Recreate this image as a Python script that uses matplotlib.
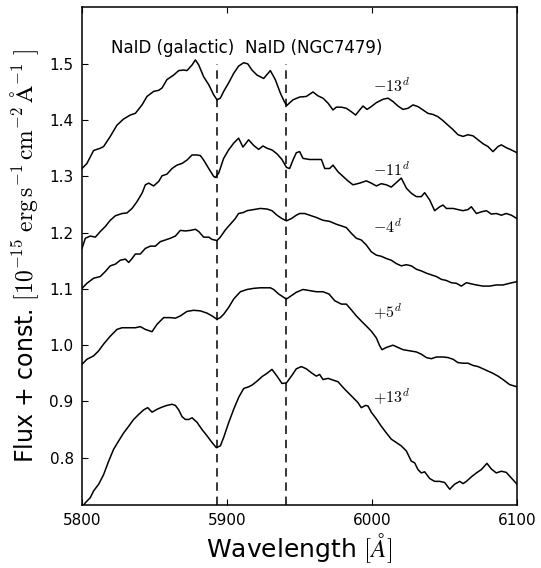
import matplotlib
matplotlib.use("Agg")
import matplotlib.pyplot as plt

plt.rcParams['mathtext.fontset'] = 'cm'
plt.rcParams['font.family'] = ['DejaVu Sans']

# ---- data (wavelength in Angstrom, flux + const.) ----
wl_m13 = [5800, 5803.4, 5808.0, 5812.6, 5814.9, 5819.5, 5824.1, 5828.7, 5833.3, 5836.8,
          5841.4, 5844.8, 5849.4, 5852.9, 5855.2, 5858.6, 5863.2, 5866.7, 5870.1, 5872.4,
          5875.9, 5878.2, 5880.5, 5883.9, 5887.4, 5890.8, 5893.1, 5895.4, 5897.7, 5901.1,
          5904.6, 5908.0, 5911.5, 5914.3, 5917.2, 5920.7, 5925.3, 5929.9, 5933.3, 5936.8,
          5939.5, 5941.2, 5945.5, 5950.1, 5954.7, 5959.3, 5962.8, 5966.2, 5969.7, 5973.1,
          5975.4, 5978.9, 5982.3, 5985.7, 5988.7, 5991.5, 5993.8, 5996.6, 5999.5, 6003.0,
          6007.6, 6011.0, 6014.5, 6017.9, 6021.4, 6024.8, 6028.3, 6031.7, 6035.2, 6038.6,
          6042.1, 6045.5, 6049.0, 6052.4, 6055.9, 6059.3, 6062.8, 6066.2, 6069.7, 6073.1,
          6076.6, 6080.0, 6083.4, 6086.9, 6089.2, 6092.6, 6096.1, 6100.0]
fx_m13 = [1.314, 1.323, 1.346, 1.350, 1.353, 1.371, 1.391, 1.402, 1.409, 1.412,
          1.427, 1.442, 1.451, 1.453, 1.457, 1.472, 1.480, 1.488, 1.489, 1.488,
          1.498, 1.507, 1.498, 1.477, 1.463, 1.445, 1.436, 1.439, 1.451, 1.466,
          1.483, 1.496, 1.502, 1.500, 1.489, 1.480, 1.474, 1.488, 1.472, 1.448,
          1.433, 1.426, 1.436, 1.441, 1.442, 1.450, 1.443, 1.439, 1.430, 1.418,
          1.423, 1.423, 1.421, 1.415, 1.409, 1.418, 1.425, 1.419, 1.424, 1.431,
          1.437, 1.439, 1.433, 1.425, 1.419, 1.421, 1.427, 1.424, 1.418, 1.412,
          1.410, 1.406, 1.399, 1.391, 1.383, 1.374, 1.371, 1.374, 1.372, 1.365,
          1.358, 1.353, 1.344, 1.353, 1.356, 1.351, 1.347, 1.342]

wl_m11 = [5800, 5802.3, 5805.7, 5809.2, 5812.6, 5816.1, 5819.5, 5823.0, 5827.6, 5831.0,
          5834.5, 5837.9, 5841.4, 5843.7, 5846.0, 5849.4, 5852.9, 5855.2, 5858.6, 5862.1,
          5865.5, 5869.0, 5872.4, 5875.9, 5879.3, 5881.6, 5883.9, 5887.4, 5890.8, 5892.0,
          5894.3, 5897.7, 5901.1, 5904.6, 5908.0, 5911.0, 5914.9, 5918.4, 5921.8, 5924.8,
          5927.6, 5931.0, 5934.5, 5937.9, 5941.0, 5943.2, 5945.5, 5947.8, 5950.1, 5952.4,
          5957.0, 5961.6, 5965.1, 5967.4, 5970.8, 5973.1, 5976.6, 5980.0, 5983.4, 5986.9,
          5991.5, 5996.1, 5999.5, 6003.0, 6006.4, 6009.9, 6013.3, 6016.8, 6020.2, 6023.7,
          6027.1, 6030.6, 6034.0, 6036.3, 6039.8, 6043.2, 6046.7, 6049.0, 6051.3, 6055.9,
          6059.3, 6062.8, 6066.2, 6068.5, 6072.0, 6075.4, 6078.9, 6082.3, 6085.7, 6089.2,
          6092.6, 6096.1, 6100.0]
fx_m11 = [1.172, 1.190, 1.194, 1.192, 1.202, 1.211, 1.222, 1.230, 1.234, 1.235,
          1.243, 1.255, 1.270, 1.285, 1.288, 1.283, 1.291, 1.301, 1.304, 1.314,
          1.320, 1.323, 1.329, 1.338, 1.338, 1.337, 1.329, 1.314, 1.300, 1.298,
          1.306, 1.332, 1.347, 1.359, 1.368, 1.352, 1.365, 1.355, 1.348, 1.354,
          1.350, 1.347, 1.340, 1.330, 1.316, 1.314, 1.329, 1.342, 1.344, 1.332,
          1.330, 1.330, 1.330, 1.314, 1.314, 1.320, 1.308, 1.300, 1.292, 1.285,
          1.288, 1.292, 1.288, 1.283, 1.287, 1.285, 1.281, 1.289, 1.297, 1.279,
          1.270, 1.264, 1.264, 1.271, 1.258, 1.239, 1.246, 1.249, 1.243, 1.243,
          1.241, 1.239, 1.241, 1.246, 1.234, 1.237, 1.239, 1.233, 1.234, 1.231,
          1.234, 1.231, 1.225]

wl_m4 = [5800, 5803.4, 5808.0, 5812.6, 5816.1, 5819.5, 5823.0, 5826.4, 5829.9, 5832.2,
         5834.5, 5836.8, 5840.2, 5843.7, 5847.1, 5850.6, 5854.0, 5857.5, 5860.9, 5864.4,
         5867.8, 5871.3, 5874.7, 5878.2, 5880.5, 5883.9, 5887.4, 5889.7, 5893.1, 5895.4,
         5898.9, 5902.3, 5905.7, 5908.0, 5911.5, 5913.8, 5918.4, 5923.0, 5927.6, 5931.0,
         5934.5, 5937.9, 5941.0, 5944.4, 5947.8, 5950.1, 5953.6, 5957.0, 5961.6, 5966.2,
         5970.8, 5975.4, 5978.9, 5982.3, 5985.7, 5989.2, 5992.6, 5996.1, 5999.5, 6003.0,
         6006.4, 6009.9, 6013.3, 6016.8, 6020.2, 6023.7, 6027.1, 6030.6, 6034.0, 6037.5,
         6040.9, 6044.4, 6047.8, 6051.3, 6054.7, 6058.2, 6061.6, 6065.1, 6068.5, 6072.0,
         6076.6, 6081.1, 6085.7, 6090.3, 6094.9, 6100.0]
fx_m4 = [1.101, 1.110, 1.119, 1.122, 1.131, 1.141, 1.144, 1.151, 1.153, 1.147,
         1.154, 1.162, 1.162, 1.172, 1.176, 1.176, 1.184, 1.187, 1.190, 1.194,
         1.204, 1.203, 1.204, 1.206, 1.202, 1.192, 1.192, 1.188, 1.186, 1.192,
         1.205, 1.215, 1.225, 1.234, 1.236, 1.239, 1.241, 1.243, 1.242, 1.239,
         1.231, 1.225, 1.221, 1.225, 1.231, 1.234, 1.234, 1.231, 1.227, 1.222,
         1.220, 1.215, 1.212, 1.209, 1.199, 1.190, 1.187, 1.178, 1.166, 1.160,
         1.158, 1.154, 1.151, 1.145, 1.141, 1.143, 1.141, 1.135, 1.132, 1.128,
         1.125, 1.122, 1.117, 1.115, 1.111, 1.110, 1.105, 1.111, 1.109, 1.107,
         1.105, 1.105, 1.107, 1.107, 1.110, 1.113]

wl_p5 = [5800, 5803.4, 5808.0, 5811.5, 5814.9, 5819.5, 5824.1, 5827.6, 5832.2, 5836.8,
         5840.2, 5843.7, 5848.3, 5851.7, 5856.3, 5860.9, 5864.4, 5867.8, 5872.4, 5877.0,
         5881.6, 5886.2, 5889.7, 5893.1, 5895.4, 5897.7, 5901.1, 5904.6, 5909.2, 5913.8,
         5918.4, 5923.0, 5929.9, 5932.2, 5935.6, 5939.1, 5941.0, 5944.4, 5947.8, 5952.4,
         5957.0, 5961.6, 5966.2, 5970.3, 5974.3, 5978.9, 5982.3, 5985.7, 5989.2, 5992.6,
         5996.1, 5999.5, 6003.0, 6005.3, 6006.9, 6009.9, 6014.5, 6017.9, 6021.4, 6026.0,
         6030.6, 6034.0, 6037.5, 6040.9, 6044.4, 6049.0, 6052.4, 6055.9, 6059.3, 6062.8,
         6066.2, 6069.7, 6073.1, 6076.6, 6080.0, 6083.4, 6086.9, 6090.3, 6094.9, 6100.0]
fx_p5 = [0.966, 0.975, 0.981, 0.990, 1.002, 1.016, 1.028, 1.031, 1.031, 1.031,
         1.033, 1.028, 1.024, 1.037, 1.049, 1.049, 1.048, 1.052, 1.060, 1.062,
         1.061, 1.057, 1.052, 1.046, 1.049, 1.055, 1.067, 1.082, 1.095, 1.099,
         1.101, 1.102, 1.102, 1.099, 1.091, 1.085, 1.082, 1.088, 1.094, 1.099,
         1.097, 1.095, 1.095, 1.091, 1.079, 1.073, 1.073, 1.063, 1.052, 1.043,
         1.034, 1.025, 1.013, 0.999, 0.992, 0.996, 1.000, 0.996, 0.992, 0.990,
         0.988, 0.984, 0.978, 0.976, 0.979, 0.979, 0.978, 0.975, 0.969, 0.968,
         0.968, 0.964, 0.962, 0.958, 0.954, 0.950, 0.945, 0.939, 0.930, 0.926]

wl_p13 = [5800, 5802.3, 5805.7, 5808.0, 5811.5, 5814.9, 5818.4, 5821.8, 5825.3, 5828.7,
          5832.2, 5835.6, 5839.1, 5842.5, 5845.3, 5848.3, 5851.7, 5855.2, 5858.6, 5862.1,
          5864.4, 5866.7, 5869.0, 5871.3, 5873.6, 5875.9, 5879.3, 5882.8, 5886.2, 5889.7,
          5892.6, 5895.4, 5897.7, 5901.1, 5904.6, 5908.0, 5911.5, 5914.9, 5917.2, 5920.7,
          5924.1, 5927.6, 5931.0, 5934.5, 5937.9, 5941.0, 5944.4, 5947.8, 5951.3, 5954.7,
          5958.2, 5961.6, 5963.9, 5966.2, 5969.7, 5973.1, 5976.6, 5980.0, 5983.4, 5986.9,
          5990.3, 5992.6, 5995.6, 5997.2, 5999.5, 6003.0, 6006.4, 6009.9, 6013.3, 6016.8,
          6020.2, 6023.7, 6027.1, 6029.4, 6031.7, 6034.0, 6036.3, 6039.8, 6043.2, 6046.7,
          6050.1, 6053.6, 6057.0, 6060.5, 6062.8, 6065.1, 6068.5, 6072.0, 6075.4, 6079.3,
          6082.3, 6085.7, 6089.2, 6092.6, 6096.1, 6100.0]
fx_p13 = [0.711, 0.720, 0.729, 0.741, 0.753, 0.770, 0.794, 0.815, 0.830, 0.844,
          0.856, 0.868, 0.877, 0.885, 0.889, 0.881, 0.886, 0.890, 0.893, 0.895,
          0.893, 0.885, 0.873, 0.868, 0.868, 0.871, 0.863, 0.850, 0.839, 0.827,
          0.818, 0.821, 0.836, 0.862, 0.886, 0.907, 0.923, 0.926, 0.929, 0.936,
          0.944, 0.950, 0.957, 0.945, 0.932, 0.933, 0.945, 0.958, 0.962, 0.958,
          0.951, 0.945, 0.948, 0.939, 0.941, 0.938, 0.935, 0.925, 0.916, 0.907,
          0.898, 0.889, 0.893, 0.892, 0.881, 0.869, 0.856, 0.844, 0.833, 0.827,
          0.821, 0.812, 0.794, 0.791, 0.779, 0.773, 0.775, 0.763, 0.758, 0.758,
          0.756, 0.744, 0.753, 0.758, 0.754, 0.758, 0.766, 0.773, 0.779, 0.790,
          0.780, 0.773, 0.776, 0.774, 0.764, 0.753]

spectra = [(wl_m13, fx_m13), (wl_m11, fx_m11), (wl_m4, fx_m4), (wl_p5, fx_p5), (wl_p13, fx_p13)]

epoch_labels = [r'$-13^d$', r'$-11^d$', r'$-4^d$', r'$+5^d$', r'$+13^d$']
epoch_label_x = 6000.5
epoch_label_y = [1.451, 1.301, 1.200, 1.049, 0.897]

nad_wl = [5893, 5941]
nad_top = 1.50
nad_texts = ['NaID (galactic)', 'NaID (NGC7479)']
nad_text_x = [5820, 5912.4]
nad_text_y = 1.519

xticks = [5800, 5900, 6000, 6100]
yticks = [0.8, 0.9, 1.0, 1.1, 1.2, 1.3, 1.4, 1.5]
xlim = (5800, 6100)
ylim = (0.716, 1.601)

# ---- figure ----
fig = plt.figure(figsize=(5.41, 5.68), dpi=100)
ax = fig.add_axes([82 / 541, 1 - 505 / 568, (517 - 82) / 541, (505 - 7) / 568])

for wl, fx in spectra:
    ax.plot(wl, fx, color='black', lw=1.1)

for w in nad_wl:
    ax.plot([w, w], [ylim[0], nad_top], color='black', lw=1.1,
            linestyle=(0, (5.5, 3.8)))

for lab, y in zip(epoch_labels, epoch_label_y):
    ax.text(epoch_label_x, y, lab, fontsize=11.5, ha='left', va='baseline')

for t, x in zip(nad_texts, nad_text_x):
    ax.text(x, nad_text_y, t, fontsize=12, ha='left', va='baseline')

ax.set_xlim(*xlim)
ax.set_ylim(*ylim)
ax.set_xticks(xticks)
ax.set_yticks(yticks)
ax.set_yticklabels([f'{v:.1f}' for v in yticks])
ax.tick_params(direction='in', length=4.5, width=0.8, labelsize=11, pad=6)
ax.tick_params(axis='x', top=True)
for s in ax.spines.values():
    s.set_linewidth(1.1)

ax.set_xlabel(r'Wavelength $[\AA]$', fontsize=18, labelpad=2)
ax.set_ylabel(r'Flux + const. $[10^{-15}\ \mathrm{erg\,s^{-1}\,cm^{-2}\,\AA^{-1}}\ ]$',
              fontsize=17, labelpad=6)

fig.savefig('out.png', dpi=100)
